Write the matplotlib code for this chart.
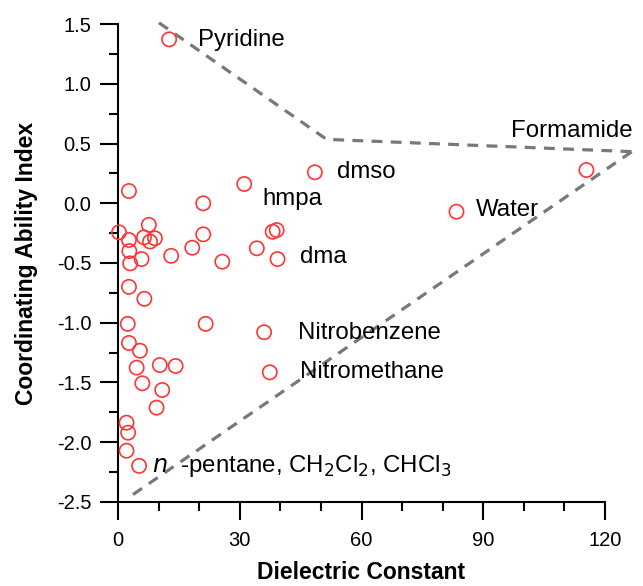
import matplotlib
matplotlib.use("Agg")
import matplotlib.pyplot as plt
from matplotlib.ticker import MultipleLocator

plt.rcParams['font.family'] = ['Liberation Sans', 'DejaVu Sans']

# solvent data: dielectric constant vs coordinating ability index
eps = [12.6, 115.4, 48.5, 31.1, 83.4,
       2.7, 21.0, 0.25, 7.6, 2.7, 6.4, 9.1, 7.9, 2.8, 3.0, 5.8, 13.1,
       18.3, 21.0, 25.7, 34.2, 38.1, 39.1, 39.3,
       2.7, 6.5, 2.4, 21.6, 36.0, 2.7, 5.4, 4.6, 10.3, 14.2, 37.4,
       6.0, 10.9, 9.5, 2.1, 2.5, 2.1, 5.2]
cai = [1.374, 0.279, 0.26, 0.162, -0.07,
       0.103, 0.0, -0.243, -0.18, -0.307, -0.285, -0.293, -0.32, -0.40, -0.503, -0.467, -0.44,
       -0.372, -0.26, -0.489, -0.377, -0.238, -0.224, -0.467,
       -0.70, -0.80, -1.01, -1.01, -1.08, -1.17, -1.235, -1.377, -1.355, -1.363, -1.416,
       -1.508, -1.564, -1.712, -1.838, -1.922, -2.073, -2.20]

# boundary lines
upper_x = [10.1, 51.4, 126.6]
upper_y = [1.513, 0.536, 0.433]
lower_x = [3.7, 126.6]
lower_y = [-2.44, 0.433]

labels = ["Pyridine", "Formamide", "dmso", "hmpa", "Water", "dma",
          "Nitrobenzene", "Nitromethane",
          r"$\it{n}$  -pentane, CH$_2$Cl$_2$, CHCl$_3$"]
label_x = [19.7, 126.8, 53.9, 35.5, 88.2, 44.8, 44.4, 44.8, 8.4]
label_y = [1.37, 0.605, 0.26, 0.035, -0.06, -0.45, -1.09, -1.416, -2.2]
label_ha = ["left", "right", "left", "left", "left", "left", "left", "left", "left"]

fig = plt.figure(figsize=(6.43, 5.86), dpi=100)
ax = fig.add_axes([0.1835, 0.1439, 0.7575, 0.8146])

ax.plot(upper_x, upper_y, color="#787878", lw=2.3, ls=(0, (3.4, 2.6)), clip_on=False)
ax.plot(lower_x, lower_y, color="#787878", lw=2.3, ls=(0, (3.4, 2.6)), clip_on=False)

ax.scatter(eps, cai, s=105, facecolors="none", edgecolors="#ff3535", linewidths=1.2,
           zorder=3, clip_on=False)

for t, x, y, ha in zip(labels, label_x, label_y, label_ha):
    ax.text(x, y, t, ha=ha, va="center", fontsize=17.3)

ax.set_xlim(0, 120)
ax.set_ylim(-2.5, 1.5)
ax.xaxis.set_major_locator(MultipleLocator(30))
ax.xaxis.set_minor_locator(MultipleLocator(10))
ax.yaxis.set_major_locator(MultipleLocator(0.5))
ax.yaxis.set_minor_locator(MultipleLocator(0.25))
ax.yaxis.set_major_formatter(plt.FormatStrFormatter('%.1f'))

for s in ["top", "right"]:
    ax.spines[s].set_visible(False)
for s in ["left", "bottom"]:
    ax.spines[s].set_linewidth(1.5)

ax.tick_params(which="major", direction="out", length=13, width=1.5, labelsize=14.5)
ax.tick_params(which="minor", direction="out", length=6.5, width=1.5)
ax.tick_params(axis="y", pad=6)
ax.tick_params(axis="x", pad=8)

ax.set_xlabel("Dielectric Constant", fontsize=16.5, fontweight="bold", labelpad=8)
ax.set_ylabel("Coordinating Ability Index", fontsize=16.5, fontweight="bold", labelpad=14)

fig.savefig("out.png", dpi=100)
